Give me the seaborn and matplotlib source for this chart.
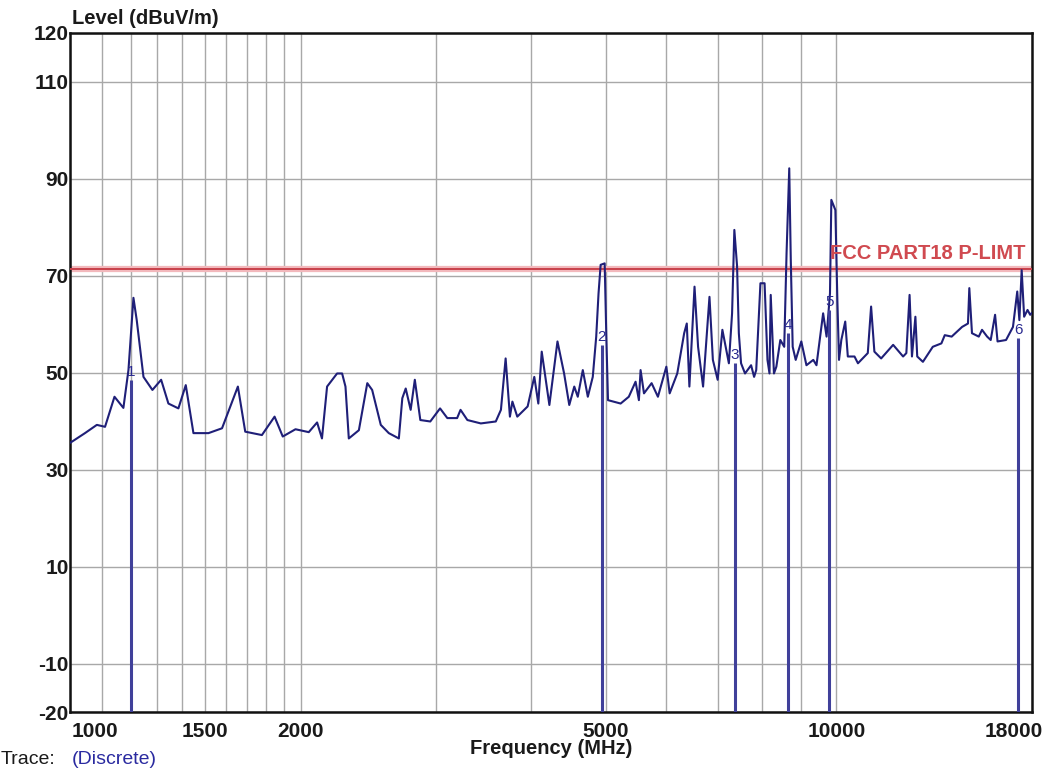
import numpy as np
import pandas as pd
import matplotlib
matplotlib.use('Agg')
import matplotlib.pyplot as plt
import matplotlib.transforms as mtransforms
import seaborn as sns

# trace (MHz, dBuV/m)
trace_freq = [1000, 1005, 1046, 1084, 1111, 1143, 1174, 1192, 1210, 1222,
              1247, 1281, 1315, 1344, 1385, 1416, 1449, 1516, 1579, 1656,
              1693, 1780, 1849, 1895, 1969, 2049, 2101, 2132, 2165, 2231,
              2265, 2288, 2311, 2382, 2443, 2479, 2544, 2606, 2686, 2714,
              2742, 2783, 2818, 2865, 2952, 3040, 3107, 3200, 3233, 3300,
              3436, 3594, 3650, 3702, 3750, 3778, 3834, 3955, 4035, 4084,
              4126, 4222, 4326, 4413, 4482, 4550, 4598, 4668, 4739, 4810,
              4860, 4894, 4925, 4985, 5010, 5035, 5230, 5360, 5470, 5525,
              5553, 5610, 5740, 5850, 6000, 6060, 6200, 6330, 6380, 6430,
              6530, 6600, 6700, 6830, 6900, 7000, 7100, 7170, 7240, 7310,
              7360, 7420, 7460, 7510, 7600, 7740, 7810, 7860, 7960, 8060,
              8130, 8180, 8210, 8290, 8350, 8450, 8550, 8610, 8680, 8720,
              8770, 8850, 9000, 9140, 9330, 9420, 9610, 9710, 9810, 9850,
              9970, 10030, 10080, 10150, 10270, 10350, 10560, 10670, 10990, 11100,
              11210, 11440, 11860, 12220, 12340, 12460, 12550, 12680, 12750, 12970,
              13360, 13710, 13850, 14140, 14590, 14850, 14910, 15030, 15340, 15490,
              15730, 15900, 16110, 16230, 16650, 17000, 17220, 17330, 17450, 17580,
              17760, 17900, 18000]
trace_level = [35.5, 35.7, 37.5, 39.2, 38.8, 45.0, 42.7, 50.5, 65.4, 60.8,
               49.1, 46.4, 48.5, 43.6, 42.6, 47.4, 37.5, 37.5, 38.5, 47.1,
               37.8, 37.1, 40.9, 36.8, 38.3, 37.7, 39.7, 36.4, 47.1, 49.8,
               49.8, 47.1, 36.4, 38.1, 47.8, 46.4, 39.2, 37.5, 36.4, 44.7,
               46.7, 42.3, 48.5, 40.2, 39.9, 42.6, 40.6, 40.6, 42.3, 40.2,
               39.5, 39.9, 42.3, 52.9, 40.9, 44.0, 40.9, 43.0, 49.1, 43.6,
               54.3, 43.3, 56.4, 49.8, 43.3, 47.1, 45.0, 50.5, 45.0, 49.1,
               57.4, 66.3, 72.2, 72.5, 57.4, 44.3, 43.6, 45.0, 48.1, 44.3,
               50.5, 45.7, 47.8, 45.0, 51.2, 45.7, 49.8, 58.1, 60.1, 47.1,
               67.7, 55.3, 47.1, 65.6, 52.6, 48.5, 58.8, 55.3, 51.9, 62.2,
               79.4, 72.0, 58.1, 51.9, 49.8, 51.5, 49.1, 50.5, 68.4, 68.4,
               52.6, 49.8, 66.0, 49.8, 51.2, 56.7, 55.3, 74.6, 92.1, 73.2,
               55.3, 52.6, 56.4, 51.5, 52.6, 51.5, 62.2, 57.4, 66.3, 85.6,
               83.5, 64.9, 52.6, 56.7, 60.5, 53.3, 53.3, 51.9, 54.0, 63.6,
               54.3, 52.9, 55.7, 53.3, 54.0, 66.0, 53.3, 61.5, 53.3, 52.2,
               55.3, 56.0, 57.7, 57.4, 59.4, 60.1, 67.4, 58.1, 57.4, 58.8,
               57.4, 56.7, 61.9, 56.4, 56.7, 59.4, 66.7, 60.8, 71.1, 61.5,
               62.9, 61.9, 62.3]

# discrete markers
marker_freq = [1200, 4940, 7370, 8650, 9790, 17260]
marker_level = [48.5, 55.7, 52.0, 58.1, 62.9, 57.1]
marker_label = ['1', '2', '3', '4', '5', '6']

limit_level = 71.4
limit_name = 'FCC PART18 P-LIMT'

x_ticks = [1000, 1500, 2000, 5000, 10000, 18000]
x_grid = [1100, 1200, 1300, 1400, 1600, 1700, 1800, 1900,
          3000, 4000, 6000, 7000, 8000, 9000]
y_ticks = [-20, -10, 10, 30, 50, 70, 90, 110, 120]

df = pd.DataFrame({'Frequency': trace_freq, 'Level': trace_level})

sns.set_style('white')
plt.rcParams['font.family'] = ['Liberation Sans', 'DejaVu Sans']

fig = plt.figure(figsize=(10.56, 7.70), dpi=100)
ax = fig.add_axes([70 / 1056, 1 - 712 / 770, 962 / 1056, 679 / 770])

# limit line (pink halo + red core)
ax.axhline(limit_level, color='#f2b8bc', lw=4.5, zorder=2)
ax.axhline(limit_level, color='#c8404a', lw=1.4, zorder=3)

sns.lineplot(data=df, x='Frequency', y='Level', ax=ax, color='#1f1f78',
             lw=1.5, sort=False, estimator=None, zorder=4)

ax.vlines(marker_freq, -20, marker_level, color='#40409a', lw=2.2, zorder=5)
for f, lv, lab in zip(marker_freq, marker_level, marker_label):
    ax.text(f, lv + 0.2, lab, ha='center', va='bottom', fontsize=11,
            color='#2a2a90', zorder=6)

ax.set_xscale('log')
ax.set_xlim(1000, 18000)
ax.set_ylim(-20, 120)
ax.set_xticks(x_ticks)
ax.set_xticklabels([str(t) for t in x_ticks])
ax.set_xticks(x_grid, minor=True)
ax.set_xticklabels([], minor=True)
ax.set_yticks(y_ticks)
ax.set_yticklabels([str(t) for t in y_ticks])

ax.grid(True, which='both', color='#a8a8a8', lw=1.0, zorder=0)
ax.set_axisbelow(True)
ax.tick_params(axis='both', which='both', length=0, labelsize=15,
               labelcolor='#1a1a1a')
ax.tick_params(axis='x', pad=7)
ax.tick_params(axis='y', pad=1)
for lab in ax.get_xticklabels() + ax.get_yticklabels():
    lab.set_fontweight('bold')

# keep the end labels inside, like the original
xl = ax.get_xticklabels()
xl[0].set_ha('left')
xl[0].set_transform(xl[0].get_transform() +
                    mtransforms.ScaledTranslation(2 / 100, 0, fig.dpi_scale_trans))
xl[-1].set_ha('right')
xl[-1].set_transform(xl[-1].get_transform() +
                     mtransforms.ScaledTranslation(11 / 100, 0, fig.dpi_scale_trans))

for s in ax.spines.values():
    s.set_color('#111111')
    s.set_linewidth(1.8)

ax.set_xlabel('Frequency (MHz)', fontsize=14.5, fontweight='bold',
              color='#1a1a1a', labelpad=-1)
ax.set_ylabel('')
ax.text(0.002, 1.008, 'Level (dBuV/m)', transform=ax.transAxes, ha='left',
        va='bottom', fontsize=14.5, fontweight='bold', color='#1a1a1a')
ax.text(0.993, limit_level + 1.2, limit_name, transform=ax.get_yaxis_transform(),
        ha='right', va='bottom', fontsize=14.5, fontweight='bold',
        color='#d04a50', zorder=6)

fig.text(1 / 1056, 2 / 770, 'Trace:', ha='left', va='bottom', fontsize=14,
         color='#1a1a1a')
fig.text(72 / 1056, 2 / 770, '(Discrete)', ha='left', va='bottom', fontsize=14,
         color='#2a2aa0')

fig.savefig('out.png', dpi=100)
